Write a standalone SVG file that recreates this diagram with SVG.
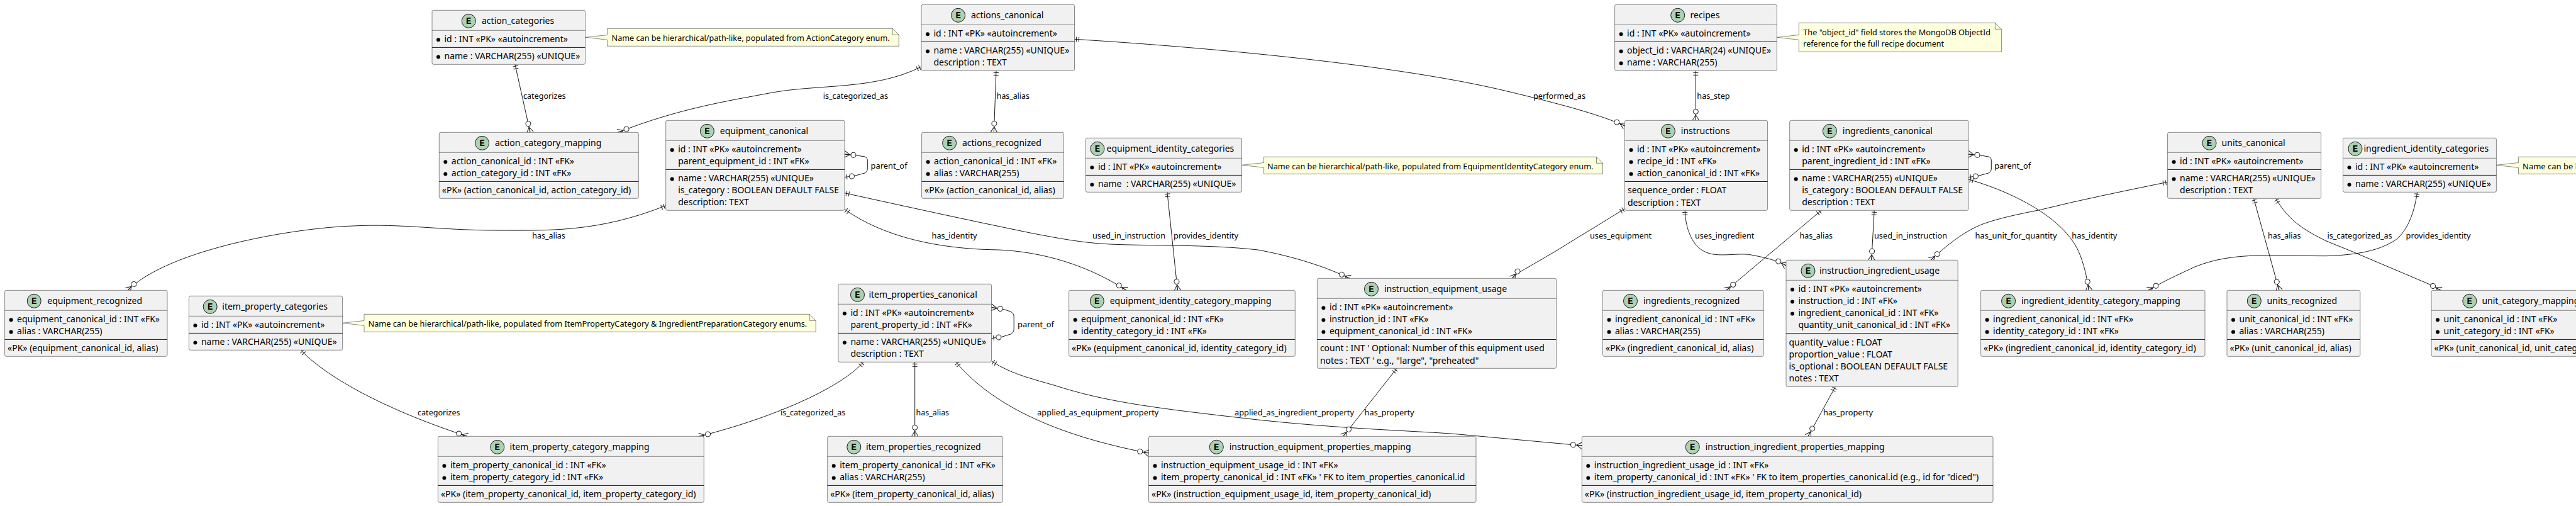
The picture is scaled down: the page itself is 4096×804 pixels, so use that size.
<svg xmlns="http://www.w3.org/2000/svg" width="4096" height="804" viewBox="0 0 4096 804">
<style>
text{font-family:"Noto Sans","Open Sans",sans-serif;fill:#000;white-space:pre}
.ro,.ti{font-size:14px}
.lb,.nt{font-size:13px}
.ltr{font-family:"Liberation Mono",monospace;font-size:14px;font-weight:bold;text-anchor:middle}
.box{fill:#F1F1F1;stroke:#181818;stroke-width:.5}
.hd{stroke:#181818;stroke-width:.5}
.sp{stroke:#181818;stroke-width:1}
.ci{fill:#ADD1B2;stroke:#181818;stroke-width:1}
.bu{fill:#000}
.note{fill:#FEFFDD;stroke:#181818;stroke-width:.5}
.ear{fill:none;stroke:#181818;stroke-width:.5}
#connectors path{fill:none;stroke:#181818;stroke-width:1}
.m{fill:none;stroke:#181818;stroke-width:1}
.mc{fill:#fff;stroke:#181818;stroke-width:1}
.o{marker-start:url(#one);marker-end:url(#many)}
.z{marker-start:url(#zeroone);marker-end:url(#many)}
</style>
<defs>
<marker id="one" markerUnits="userSpaceOnUse" orient="auto" overflow="visible" markerWidth="1" markerHeight="1" refX="0" refY="0"><path class="m" d="M3,-4V4M7,-4V4"/></marker>
<marker id="zeroone" markerUnits="userSpaceOnUse" orient="auto" overflow="visible" markerWidth="1" markerHeight="1" refX="0" refY="0"><path class="m" d="M3.5,-4V4"/><circle class="mc" cx="11.5" cy="0" r="4"/></marker>
<marker id="many" markerUnits="userSpaceOnUse" orient="auto" overflow="visible" markerWidth="1" markerHeight="1" refX="0" refY="0"><path class="m" d="M-8.5,0L0,-5.3M-8.5,0L0,0M-8.5,0L0,5.3"/><circle class="mc" cx="-14" cy="0" r="4"/></marker>
</defs>
<g id="connectors">
<path class="o" d="M818.9,102.3L843,210.3"/>
<path class="o" d="M1465,106C1390,144 1300,133 1223,148C1160,160 1080,172 983,210.3"/>
<path class="o" d="M1584,112.3L1580.4,210.3"/>
<path class="o" d="M1708.5,62.3C1900,74 2200,100 2382.6,141.7C2460,160 2540,180 2583.5,200"/>
<path class="o" d="M2696.4,112.3V191.3"/>
<path class="o" d="M1058.7,326.7C950,370 870,366 791,366C700,366 640,355 561,359C470,362 270,395 203,461.3"/>
<path class="z" d="M1343,281.5L1355,280L1360,279L1375,275C1378,273.5 1379.3,271 1379.3,268L1379.3,255C1379.3,252 1378,250 1375,249L1361,246.7L1343,245"/>
<path class="o" d="M1343,332.7C1385,362 1455,393 1574,396.7C1640,397 1720,415 1791,461.3"/>
<path class="o" d="M1343,306.7C1440,328 1540,350 1638,370C1680,378 1720,386 1765,388C1830,391 1920,388 2000,397C2060,408 2110,425 2146,442.3"/>
<path class="o" d="M1855.9,305.3L1872.4,461.3"/>
<path class="o" d="M2583.5,331.7L2472,400L2417,432C2412,435 2407,439 2404.5,442.3"/>
<path class="o" d="M2679.2,334.3C2680,365 2692,392 2711,400C2730,410 2765,401 2784.4,405C2800,408 2822,412 2840,422"/>
<path class="o" d="M2896,334.3L2745,461.3"/>
<path class="o" d="M2980.2,334.3L2975.8,413.3"/>
<path class="o" d="M3446.6,289.3C3380,303 3310,317 3244.6,333.3C3200,342 3165,350 3143.3,360C3118,372 3095,390 3070,413.3"/>
<path class="o" d="M3130,285C3200,305 3280,345 3305,399.3C3314,420 3318,440 3321.5,461.3"/>
<path class="z" d="M3130,281.5L3142,280L3147,279L3162,275C3165,273.5 3166.3,271 3166.3,268L3166.3,255C3166.3,252 3165,250 3162,249L3148,246.7L3130,245"/>
<path class="o" d="M3583.6,315.3L3624,461.3"/>
<path class="o" d="M3618.6,315.3C3640,352 3665,366 3699,383L3741,400L3866,453L3880.7,461.3"/>
<path class="o" d="M3843.6,305.3C3838,345 3825,368 3810.8,380C3785,398 3750,405 3699,406.7L3590,406C3550,407 3520,412 3490,424C3460,438 3440,447 3416,461.3"/>
<path class="o" d="M478.3,556.3C530,610 640,660 743,693.3"/>
<path class="o" d="M1373,575.3C1335,618 1225,665 1112,693.3"/>
<path class="o" d="M1454.7,575.3V693.3"/>
<path class="o" d="M1519.8,575.3C1575,640 1670,690 1826.5,720"/>
<path class="o" d="M1577,574C1610,596 1650,604 1685.6,615C1765,640 1850,650 2000,667C2140,682 2260,685 2319,690L2515.3,708"/>
<path class="z" d="M1576.5,537.5L1592,535.5L1607,531C1610.5,529 1612.2,526 1612.2,523L1612.2,503C1612.2,500 1610.5,497 1607,495L1594,491L1576.5,488.5"/>
<path class="o" d="M2221,585.3L2135.8,693.3"/>
<path class="o" d="M2918.4,614.3L2875,693.3"/>
</g>
<g id="connector-labels" lengthAdjust="spacingAndGlyphs">
<text class="lb" lengthAdjust="spacingAndGlyphs" textLength="67.6" x="832" y="157">categorizes</text>
<text class="lb" lengthAdjust="spacingAndGlyphs" textLength="103.3" x="1308.7" y="157">is_categorized_as</text>
<text class="lb" lengthAdjust="spacingAndGlyphs" textLength="52" x="1584.8" y="157">has_alias</text>
<text class="lb" lengthAdjust="spacingAndGlyphs" textLength="83" x="2438" y="157">performed_as</text>
<text class="lb" lengthAdjust="spacingAndGlyphs" textLength="52.3" x="2698.3" y="157">has_step</text>
<text class="lb" lengthAdjust="spacingAndGlyphs" textLength="52.5" x="846.3" y="379">has_alias</text>
<text class="lb" lengthAdjust="spacingAndGlyphs" textLength="58" x="1384.6" y="268">parent_of</text>
<text class="lb" lengthAdjust="spacingAndGlyphs" textLength="72" x="1481.5" y="379">has_identity</text>
<text class="lb" lengthAdjust="spacingAndGlyphs" textLength="116" x="1737" y="379">used_in_instruction</text>
<text class="lb" lengthAdjust="spacingAndGlyphs" textLength="103" x="1866" y="379">provides_identity</text>
<text class="lb" lengthAdjust="spacingAndGlyphs" textLength="98.2" x="2528" y="379">uses_equipment</text>
<text class="lb" lengthAdjust="spacingAndGlyphs" textLength="94.4" x="2695" y="379">uses_ingredient</text>
<text class="lb" lengthAdjust="spacingAndGlyphs" textLength="52.5" x="2861.6" y="379">has_alias</text>
<text class="lb" lengthAdjust="spacingAndGlyphs" textLength="116" x="2980" y="379">used_in_instruction</text>
<text class="lb" lengthAdjust="spacingAndGlyphs" textLength="130" x="3140.5" y="379">has_unit_for_quantity</text>
<text class="lb" lengthAdjust="spacingAndGlyphs" textLength="72" x="3294.3" y="379">has_identity</text>
<text class="lb" lengthAdjust="spacingAndGlyphs" textLength="58" x="3171.2" y="268">parent_of</text>
<text class="lb" lengthAdjust="spacingAndGlyphs" textLength="52.5" x="3606" y="379">has_alias</text>
<text class="lb" lengthAdjust="spacingAndGlyphs" textLength="103.3" x="3700.4" y="379">is_categorized_as</text>
<text class="lb" lengthAdjust="spacingAndGlyphs" textLength="103" x="3825.5" y="379">provides_identity</text>
<text class="lb" lengthAdjust="spacingAndGlyphs" textLength="67.6" x="664" y="659.5">categorizes</text>
<text class="lb" lengthAdjust="spacingAndGlyphs" textLength="103.3" x="1241" y="659.5">is_categorized_as</text>
<text class="lb" lengthAdjust="spacingAndGlyphs" textLength="52.5" x="1456.6" y="659.5">has_alias</text>
<text class="lb" lengthAdjust="spacingAndGlyphs" textLength="193.2" x="1649.2" y="659.5">applied_as_equipment_property</text>
<text class="lb" lengthAdjust="spacingAndGlyphs" textLength="190" x="1963" y="659.5">applied_as_ingredient_property</text>
<text class="lb" lengthAdjust="spacingAndGlyphs" textLength="58" x="1618" y="519.5">parent_of</text>
<text class="lb" lengthAdjust="spacingAndGlyphs" textLength="79" x="2169.6" y="659.5">has_property</text>
<text class="lb" lengthAdjust="spacingAndGlyphs" textLength="79" x="2899" y="659.5">has_property</text>
</g>
<g id="note-action-categories"><path class="note" d="M965.6,45.3V55.5L931,59.3L965.6,63.3V73.3H1429.2V55.3L1419.2,45.3Z"/><path class="ear" d="M1419.2,45.3V55.3H1429.2"/><text class="nt" lengthAdjust="spacingAndGlyphs" textLength="442" x="972.6" y="65">Name can be hierarchical/path-like, populated from ActionCategory enum.</text></g>
<g id="note-recipes"><path class="note" d="M2860.3,36.3V55.5L2825.5,59.3L2860.3,63.3V82.3H3182.4V46.3L3172.4,36.3Z"/><path class="ear" d="M3172.4,36.3V46.3H3182.4"/><text class="nt" lengthAdjust="spacingAndGlyphs" textLength="297.7" x="2867.3" y="56">The "object_id" field stores the MongoDB ObjectId</text><text class="nt" lengthAdjust="spacingAndGlyphs" textLength="223.7" x="2867.3" y="73.7">reference for the full recipe document</text></g>
<g id="note-equipment-identity"><path class="note" d="M2009.6,249.3V258.5L1974.5,262.3L2009.6,266.3V276.3H2548.5V259.3L2538.5,249.3Z"/><path class="ear" d="M2538.5,249.3V259.3H2548.5"/><text class="nt" lengthAdjust="spacingAndGlyphs" textLength="518.5" x="2015" y="268.5">Name can be hierarchical/path-like, populated from EquipmentIdentityCategory enum.</text></g>
<g id="note-ingredient-identity"><path class="note" d="M4004.4,249.3V258.5L3969.4,262.3L4004.4,266.3V276.3H4100V249.3Z"/><text class="nt" x="4011" y="268.5">Name can be h</text></g>
<g id="note-item-property"><path class="note" d="M579,499.3V509.5L544.6,513.3L579,517.3V527.3H1297.2V509.3L1287.2,499.3Z"/><path class="ear" d="M1287.2,499.3V509.3H1297.2"/><text class="nt" lengthAdjust="spacingAndGlyphs" textLength="697.7" x="585.5" y="519">Name can be hierarchical/path-like, populated from ItemPropertyCategory &amp; IngredientPreparationCategory enums.</text></g>

<g id="action_categories" transform="translate(687,16.3)"><rect class="box" width="243.5" height="86" rx="2.5"/><path class="hd" d="M0,32H243.5"/><path class="sp" d="M0,59.1H243.5"/><circle class="ci" cx="58.3" cy="17" r="11"/><text class="ltr" x="58.3" y="21.7">E</text><text class="ti" x="79" y="22">action_categories</text><circle class="bu" cx="10" cy="47" r="3"/><text class="ro" x="19.5" y="51">id : INT «PK» «autoincrement»</text><circle class="bu" cx="10" cy="74.1" r="3"/><text class="ro" x="19.5" y="78.1">name : VARCHAR(255) «UNIQUE»</text></g>

<g id="actions_canonical" transform="translate(1465,7.3)"><rect class="box" width="243.5" height="105" rx="2.5"/><path class="hd" d="M0,32H243.5"/><path class="sp" d="M0,59.1H243.5"/><circle class="ci" cx="58.6" cy="17" r="11"/><text class="ltr" x="58.6" y="21.7">E</text><text class="ti" x="79" y="22">actions_canonical</text><circle class="bu" cx="10" cy="47" r="3"/><text class="ro" x="19.5" y="51">id : INT «PK» «autoincrement»</text><circle class="bu" cx="10" cy="74.1" r="3"/><text class="ro" x="19.5" y="78.1">name : VARCHAR(255) «UNIQUE»</text><text class="ro" x="19.5" y="97.2">description : TEXT</text></g>

<g id="recipes" transform="translate(2567.6,7.3)"><rect class="box" width="257.7" height="105" rx="2.5"/><path class="hd" d="M0,32H257.7"/><path class="sp" d="M0,59.1H257.7"/><circle class="ci" cx="100.1" cy="17" r="11"/><text class="ltr" x="100.1" y="21.7">E</text><text class="ti" x="119.9" y="22">recipes</text><circle class="bu" cx="10" cy="47" r="3"/><text class="ro" x="19.5" y="51">id : INT «PK» «autoincrement»</text><circle class="bu" cx="10" cy="74.1" r="3"/><text class="ro" x="19.5" y="78.1">object_id : VARCHAR(24) «UNIQUE»</text><circle class="bu" cx="10" cy="93.2" r="3"/><text class="ro" x="19.5" y="97.2">name : VARCHAR(255)</text></g>

<g id="action_category_mapping" transform="translate(698.3,210.3)"><rect class="box" width="317" height="105" rx="2.5"/><path class="hd" d="M0,32H317"/><path class="sp" d="M0,78.1H317"/><circle class="ci" cx="68.3" cy="17" r="11"/><text class="ltr" x="68.3" y="21.7">E</text><text class="ti" x="88.7" y="22">action_category_mapping</text><circle class="bu" cx="10" cy="47" r="3"/><text class="ro" x="19.5" y="51">action_canonical_id : INT «FK»</text><circle class="bu" cx="10" cy="66.1" r="3"/><text class="ro" x="19.5" y="70.1">action_category_id : INT «FK»</text><text class="ro" x="4.5" y="97.1">«PK» (action_canonical_id, action_category_id)</text></g>

<g id="equipment_canonical" transform="translate(1058.7,191.3)"><rect class="box" width="284.3" height="143" rx="2.5"/><path class="hd" d="M0,32H284.3"/><path class="sp" d="M0,78.1H284.3"/><circle class="ci" cx="65.7" cy="17" r="11"/><text class="ltr" x="65.7" y="21.7">E</text><text class="ti" x="86.1" y="22">equipment_canonical</text><circle class="bu" cx="10" cy="47" r="3"/><text class="ro" x="19.5" y="51">id : INT «PK» «autoincrement»</text><text class="ro" x="19.5" y="70.1">parent_equipment_id : INT «FK»</text><circle class="bu" cx="10" cy="93.1" r="3"/><text class="ro" x="19.5" y="97.1">name : VARCHAR(255) «UNIQUE»</text><text class="ro" x="19.5" y="116.2">is_category : BOOLEAN DEFAULT FALSE</text><text class="ro" x="19.5" y="135.2">description: TEXT</text></g>

<g id="actions_recognized" transform="translate(1465.6,210.3)"><rect class="box" width="225.7" height="105" rx="2.5"/><path class="hd" d="M0,32H225.7"/><path class="sp" d="M0,78.1H225.7"/><circle class="ci" cx="44" cy="17" r="11"/><text class="ltr" x="44" y="21.7">E</text><text class="ti" x="64.4" y="22">actions_recognized</text><circle class="bu" cx="10" cy="47" r="3"/><text class="ro" x="19.5" y="51">action_canonical_id : INT «FK»</text><circle class="bu" cx="10" cy="66.1" r="3"/><text class="ro" x="19.5" y="70.1">alias : VARCHAR(255)</text><text class="ro" x="4.5" y="97.1">«PK» (action_canonical_id, alias)</text></g>

<g id="equipment_identity_categories" transform="translate(1726.4,219.3)"><rect class="box" width="248.1" height="86" rx="2.5"/><path class="hd" d="M0,32H248.1"/><path class="sp" d="M0,59.1H248.1"/><circle class="ci" cx="18.6" cy="17" r="11"/><text class="ltr" x="18.6" y="21.7">E</text><text class="ti" x="33.2" y="22">equipment_identity_categories</text><circle class="bu" cx="10" cy="47" r="3"/><text class="ro" x="19.5" y="51">id : INT «PK» «autoincrement»</text><circle class="bu" cx="10" cy="74.1" r="3"/><text class="ro" x="19.5" y="78.1">name  : VARCHAR(255) «UNIQUE»</text></g>

<g id="instructions" transform="translate(2583.5,191.3)"><rect class="box" width="227.1" height="143" rx="2.5"/><path class="hd" d="M0,32H227.1"/><path class="sp" d="M0,97.2H227.1"/><circle class="ci" cx="68.9" cy="17" r="11"/><text class="ltr" x="68.9" y="21.7">E</text><text class="ti" x="89.3" y="22">instructions</text><circle class="bu" cx="10" cy="47" r="3"/><text class="ro" x="19.5" y="51">id : INT «PK» «autoincrement»</text><circle class="bu" cx="10" cy="66.1" r="3"/><text class="ro" x="19.5" y="70.1">recipe_id : INT «FK»</text><circle class="bu" cx="10" cy="85.1" r="3"/><text class="ro" x="19.5" y="89.1">action_canonical_id : INT «FK»</text><text class="ro" x="4.5" y="116.2">sequence_order : FLOAT</text><text class="ro" x="4.5" y="135.3">description : TEXT</text></g>

<g id="ingredients_canonical" transform="translate(2845.7,191.3)"><rect class="box" width="284.3" height="143" rx="2.5"/><path class="hd" d="M0,32H284.3"/><path class="sp" d="M0,78.1H284.3"/><circle class="ci" cx="63.7" cy="17" r="11"/><text class="ltr" x="63.7" y="21.7">E</text><text class="ti" x="84.1" y="22">ingredients_canonical</text><circle class="bu" cx="10" cy="47" r="3"/><text class="ro" x="19.5" y="51">id : INT «PK» «autoincrement»</text><text class="ro" x="19.5" y="70.1">parent_ingredient_id : INT «FK»</text><circle class="bu" cx="10" cy="93.1" r="3"/><text class="ro" x="19.5" y="97.1">name : VARCHAR(255) «UNIQUE»</text><text class="ro" x="19.5" y="116.2">is_category : BOOLEAN DEFAULT FALSE</text><text class="ro" x="19.5" y="135.2">description : TEXT</text></g>

<g id="units_canonical" transform="translate(3446.6,210.3)"><rect class="box" width="244" height="105" rx="2.5"/><path class="hd" d="M0,32H244"/><path class="sp" d="M0,59.1H244"/><circle class="ci" cx="66.4" cy="17" r="11"/><text class="ltr" x="66.4" y="21.7">E</text><text class="ti" x="86" y="22">units_canonical</text><circle class="bu" cx="10" cy="47" r="3"/><text class="ro" x="19.5" y="51">id : INT «PK» «autoincrement»</text><circle class="bu" cx="10" cy="74.1" r="3"/><text class="ro" x="19.5" y="78.1">name : VARCHAR(255) «UNIQUE»</text><text class="ro" x="19.5" y="97.2">description : TEXT</text></g>

<g id="ingredient_identity_categories" transform="translate(3725.5,219.3)"><rect class="box" width="243.9" height="86" rx="2.5"/><path class="hd" d="M0,32H243.9"/><path class="sp" d="M0,59.1H243.9"/><circle class="ci" cx="19.5" cy="17" r="11"/><text class="ltr" x="19.5" y="21.7">E</text><text class="ti" x="32.9" y="22">ingredient_identity_categories</text><circle class="bu" cx="10" cy="47" r="3"/><text class="ro" x="19.5" y="51">id : INT «PK» «autoincrement»</text><circle class="bu" cx="10" cy="74.1" r="3"/><text class="ro" x="19.5" y="78.1">name : VARCHAR(255) «UNIQUE»</text></g>

<g id="equipment_recognized" transform="translate(7.6,461.3)"><rect class="box" width="258.4" height="105" rx="2.5"/><path class="hd" d="M0,32H258.4"/><path class="sp" d="M0,78.1H258.4"/><circle class="ci" cx="46.6" cy="17" r="11"/><text class="ltr" x="46.6" y="21.7">E</text><text class="ti" x="67.7" y="22">equipment_recognized</text><circle class="bu" cx="10" cy="47" r="3"/><text class="ro" x="19.5" y="51">equipment_canonical_id : INT «FK»</text><circle class="bu" cx="10" cy="66.1" r="3"/><text class="ro" x="19.5" y="70.1">alias : VARCHAR(255)</text><text class="ro" x="4.5" y="97.1">«PK» (equipment_canonical_id, alias)</text></g>

<g id="item_property_categories" transform="translate(300.4,470.3)"><rect class="box" width="244.2" height="86" rx="2.5"/><path class="hd" d="M0,32H244.2"/><path class="sp" d="M0,59.1H244.2"/><circle class="ci" cx="33.8" cy="17" r="11"/><text class="ltr" x="33.8" y="21.7">E</text><text class="ti" x="52.9" y="22">item_property_categories</text><circle class="bu" cx="10" cy="47" r="3"/><text class="ro" x="19.5" y="51">id : INT «PK» «autoincrement»</text><circle class="bu" cx="10" cy="74.1" r="3"/><text class="ro" x="19.5" y="78.1">name : VARCHAR(255) «UNIQUE»</text></g>

<g id="item_properties_canonical" transform="translate(1332.9,451.3)"><rect class="box" width="243.6" height="124" rx="2.5"/><path class="hd" d="M0,32H243.6"/><path class="sp" d="M0,78.1H243.6"/><circle class="ci" cx="30.6" cy="17" r="11"/><text class="ltr" x="30.6" y="21.7">E</text><text class="ti" x="48.5" y="22">item_properties_canonical</text><circle class="bu" cx="10" cy="47" r="3"/><text class="ro" x="19.5" y="51">id : INT «PK» «autoincrement»</text><text class="ro" x="19.5" y="70.1">parent_property_id : INT «FK»</text><circle class="bu" cx="10" cy="93.1" r="3"/><text class="ro" x="19.5" y="97.1">name : VARCHAR(255) «UNIQUE»</text><text class="ro" x="19.5" y="116.2">description : TEXT</text></g>

<g id="equipment_identity_category_mapping" transform="translate(1699.6,461.3)"><rect class="box" width="359.7" height="105" rx="2.5"/><path class="hd" d="M0,32H359.7"/><path class="sp" d="M0,78.1H359.7"/><circle class="ci" cx="44.7" cy="17" r="11"/><text class="ltr" x="44.7" y="21.7">E</text><text class="ti" x="65.1" y="22">equipment_identity_category_mapping</text><circle class="bu" cx="10" cy="47" r="3"/><text class="ro" x="19.5" y="51">equipment_canonical_id : INT «FK»</text><circle class="bu" cx="10" cy="66.1" r="3"/><text class="ro" x="19.5" y="70.1">identity_category_id : INT «FK»</text><text class="ro" x="4.5" y="97.1">«PK» (equipment_canonical_id, identity_category_id)</text></g>

<g id="instruction_equipment_usage" transform="translate(2094.4,442.3)"><rect class="box" width="380.1" height="143" rx="2.5"/><path class="hd" d="M0,32H380.1"/><path class="sp" d="M0,97.2H380.1"/><circle class="ci" cx="86.1" cy="17" r="11"/><text class="ltr" x="86.1" y="21.7">E</text><text class="ti" x="106.5" y="22">instruction_equipment_usage</text><circle class="bu" cx="10" cy="47" r="3"/><text class="ro" x="19.5" y="51">id : INT «PK» «autoincrement»</text><circle class="bu" cx="10" cy="66.1" r="3"/><text class="ro" x="19.5" y="70.1">instruction_id : INT «FK»</text><circle class="bu" cx="10" cy="85.1" r="3"/><text class="ro" x="19.5" y="89.1">equipment_canonical_id : INT «FK»</text><text class="ro" x="4.5" y="116.2">count : INT ' Optional: Number of this equipment used</text><text class="ro" x="4.5" y="135.3">notes : TEXT ' e.g., "large", "preheated"</text></g>

<g id="ingredients_recognized" transform="translate(2548.5,461.3)"><rect class="box" width="255.7" height="105" rx="2.5"/><path class="hd" d="M0,32H255.7"/><path class="sp" d="M0,78.1H255.7"/><circle class="ci" cx="44" cy="17" r="11"/><text class="ltr" x="44" y="21.7">E</text><text class="ti" x="64.4" y="22">ingredients_recognized</text><circle class="bu" cx="10" cy="47" r="3"/><text class="ro" x="19.5" y="51">ingredient_canonical_id : INT «FK»</text><circle class="bu" cx="10" cy="66.1" r="3"/><text class="ro" x="19.5" y="70.1">alias : VARCHAR(255)</text><text class="ro" x="4.5" y="97.1">«PK» (ingredient_canonical_id, alias)</text></g>

<g id="instruction_ingredient_usage" transform="translate(2840,413.3)"><rect class="box" width="273.2" height="201" rx="2.5"/><path class="hd" d="M0,32H273.2"/><path class="sp" d="M0,116.3H273.2"/><circle class="ci" cx="35" cy="17" r="11"/><text class="ltr" x="35" y="21.7">E</text><text class="ti" x="52.9" y="22">instruction_ingredient_usage</text><circle class="bu" cx="10" cy="47" r="3"/><text class="ro" x="19.5" y="51">id : INT «PK» «autoincrement»</text><circle class="bu" cx="10" cy="66.1" r="3"/><text class="ro" x="19.5" y="70.1">instruction_id : INT «FK»</text><circle class="bu" cx="10" cy="85.1" r="3"/><text class="ro" x="19.5" y="89.1">ingredient_canonical_id : INT «FK»</text><text class="ro" x="19.5" y="108.2">quantity_unit_canonical_id : INT «FK»</text><text class="ro" x="4.5" y="135.3">quantity_value : FLOAT</text><text class="ro" x="4.5" y="154.4">proportion_value : FLOAT</text><text class="ro" x="4.5" y="173.4">is_optional : BOOLEAN DEFAULT FALSE</text><text class="ro" x="4.5" y="192.5">notes : TEXT</text></g>

<g id="ingredient_identity_category_mapping" transform="translate(3149.6,461.3)"><rect class="box" width="356.4" height="105" rx="2.5"/><path class="hd" d="M0,32H356.4"/><path class="sp" d="M0,78.1H356.4"/><circle class="ci" cx="44" cy="17" r="11"/><text class="ltr" x="44" y="21.7">E</text><text class="ti" x="64.3" y="22">ingredient_identity_category_mapping</text><circle class="bu" cx="10" cy="47" r="3"/><text class="ro" x="19.5" y="51">ingredient_canonical_id : INT «FK»</text><circle class="bu" cx="10" cy="66.1" r="3"/><text class="ro" x="19.5" y="70.1">identity_category_id : INT «FK»</text><text class="ro" x="4.5" y="97.1">«PK» (ingredient_canonical_id, identity_category_id)</text></g>

<g id="units_recognized" transform="translate(3541,461.3)"><rect class="box" width="211.8" height="105" rx="2.5"/><path class="hd" d="M0,32H211.8"/><path class="sp" d="M0,78.1H211.8"/><circle class="ci" cx="43.3" cy="17" r="11"/><text class="ltr" x="43.3" y="21.7">E</text><text class="ti" x="63.6" y="22">units_recognized</text><circle class="bu" cx="10" cy="47" r="3"/><text class="ro" x="19.5" y="51">unit_canonical_id : INT «FK»</text><circle class="bu" cx="10" cy="66.1" r="3"/><text class="ro" x="19.5" y="70.1">alias : VARCHAR(255)</text><text class="ro" x="4.5" y="97.1">«PK» (unit_canonical_id, alias)</text></g>

<g id="unit_category_mapping" transform="translate(3866,461.3)"><rect class="box" width="290" height="105" rx="2.5"/><path class="hd" d="M0,32H290"/><path class="sp" d="M0,78.1H290"/><circle class="ci" cx="60.8" cy="17" r="11"/><text class="ltr" x="60.8" y="21.7">E</text><text class="ti" x="80.4" y="22">unit_category_mapping</text><circle class="bu" cx="10" cy="47" r="3"/><text class="ro" x="19.5" y="51">unit_canonical_id : INT «FK»</text><circle class="bu" cx="10" cy="66.1" r="3"/><text class="ro" x="19.5" y="70.1">unit_category_id : INT «FK»</text><text class="ro" x="4.5" y="97.1">«PK» (unit_canonical_id, unit_category_id)</text></g>

<g id="item_property_category_mapping" transform="translate(696.4,693.3)"><rect class="box" width="422.9" height="105" rx="2.5"/><path class="hd" d="M0,32H422.9"/><path class="sp" d="M0,78.1H422.9"/><circle class="ci" cx="94.4" cy="17" r="11"/><text class="ltr" x="94.4" y="21.7">E</text><text class="ti" x="114.2" y="22">item_property_category_mapping</text><circle class="bu" cx="10" cy="47" r="3"/><text class="ro" x="19.5" y="51">item_property_canonical_id : INT «FK»</text><circle class="bu" cx="10" cy="66.1" r="3"/><text class="ro" x="19.5" y="70.1">item_property_category_id : INT «FK»</text><text class="ro" x="4.5" y="97.1">«PK» (item_property_canonical_id, item_property_category_id)</text></g>

<g id="item_properties_recognized" transform="translate(1315.7,693.3)"><rect class="box" width="278.7" height="105" rx="2.5"/><path class="hd" d="M0,32H278.7"/><path class="sp" d="M0,78.1H278.7"/><circle class="ci" cx="42.1" cy="17" r="11"/><text class="ltr" x="42.1" y="21.7">E</text><text class="ti" x="61.2" y="22">item_properties_recognized</text><circle class="bu" cx="10" cy="47" r="3"/><text class="ro" x="19.5" y="51">item_property_canonical_id : INT «FK»</text><circle class="bu" cx="10" cy="66.1" r="3"/><text class="ro" x="19.5" y="70.1">alias : VARCHAR(255)</text><text class="ro" x="4.5" y="97.1">«PK» (item_property_canonical_id, alias)</text></g>

<g id="instruction_equipment_properties_mapping" transform="translate(1826.5,693.3)"><rect class="box" width="520.5" height="105" rx="2.5"/><path class="hd" d="M0,32H520.5"/><path class="sp" d="M0,78.1H520.5"/><circle class="ci" cx="107.8" cy="17" r="11"/><text class="ltr" x="107.8" y="21.7">E</text><text class="ti" x="128.2" y="22">instruction_equipment_properties_mapping</text><circle class="bu" cx="10" cy="47" r="3"/><text class="ro" x="19.5" y="51">instruction_equipment_usage_id : INT «FK»</text><circle class="bu" cx="10" cy="66.1" r="3"/><text class="ro" x="19.5" y="70.1">item_property_canonical_id : INT «FK» ' FK to item_properties_canonical.id</text><text class="ro" x="4.5" y="97.1">«PK» (instruction_equipment_usage_id, item_property_canonical_id)</text></g>

<g id="instruction_ingredient_properties_mapping" transform="translate(2515.3,693.3)"><rect class="box" width="653.7" height="105" rx="2.5"/><path class="hd" d="M0,32H653.7"/><path class="sp" d="M0,78.1H653.7"/><circle class="ci" cx="176" cy="17" r="11"/><text class="ltr" x="176" y="21.7">E</text><text class="ti" x="196.4" y="22">instruction_ingredient_properties_mapping</text><circle class="bu" cx="10" cy="47" r="3"/><text class="ro" x="19.5" y="51">instruction_ingredient_usage_id : INT «FK»</text><circle class="bu" cx="10" cy="66.1" r="3"/><text class="ro" x="19.5" y="70.1">item_property_canonical_id : INT «FK» ' FK to item_properties_canonical.id (e.g., id for "diced")</text><text class="ro" x="4.5" y="97.1">«PK» (instruction_ingredient_usage_id, item_property_canonical_id)</text></g>
</svg>
